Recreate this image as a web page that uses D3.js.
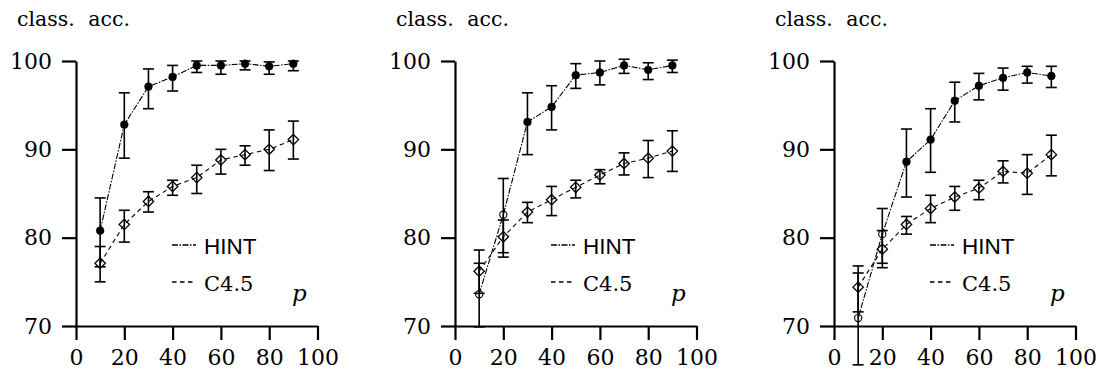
<!DOCTYPE html>
<html>
<head>
<meta charset="utf-8">
<script src="https://cdn.jsdelivr.net/npm/d3@7.9.0/dist/d3.min.js"></script>
<style>
  body { margin: 0; background: #fff; }
  svg { display: block; }
</style>
</head>
<body>
<svg id="chart" width="1100" height="376"></svg>
<script>
// sample sizes p (%)
const pValues = [10, 20, 30, 40, 50, 60, 70, 80, 90];
const xTicks = [0, 20, 40, 60, 80, 100];
const yTicks = [70, 80, 90, 100];

// panel 1
const hintA   = [80.8, 92.8, 97.1, 98.2, 99.5, 99.5, 99.7, 99.4, 99.7];
const hintAHi = [84.5, 96.4, 99.1, 99.5, 100.0, 100.0, 100.0, 99.9, 100.0];
const hintALo = [76.7, 89.0, 94.6, 96.6, 98.7, 98.5, 99.0, 98.5, 98.9];
const hintAOpen = [false, false, false, false, false, false, false, false, false];
const c45A    = [77.1, 81.5, 84.1, 85.8, 86.8, 88.8, 89.4, 90.0, 91.1];
const c45AHi  = [79.0, 83.1, 85.2, 86.5, 88.2, 90.0, 90.4, 92.2, 93.2];
const c45ALo  = [75.0, 79.5, 82.9, 84.8, 85.0, 87.2, 88.2, 87.6, 88.9];

// panel 2
const hintB   = [73.6, 82.6, 93.1, 94.8, 98.4, 98.7, 99.5, 99.0, 99.5];
const hintBHi = [77.1, 86.7, 96.4, 97.2, 99.7, 100.0, 100.2, 99.8, 100.1];
const hintBLo = [69.9, 78.3, 89.4, 92.2, 96.9, 97.3, 98.6, 97.9, 98.7];
const hintBOpen = [true, true, false, false, false, false, false, false, false];
const c45B    = [76.2, 80.1, 82.9, 84.3, 85.7, 87.1, 88.4, 89.0, 89.8];
const c45BHi  = [78.6, 82.0, 84.0, 85.8, 86.5, 87.7, 89.6, 91.0, 92.1];
const c45BLo  = [73.7, 77.8, 81.7, 82.5, 84.5, 86.1, 87.1, 86.8, 87.5];

// panel 3
const hintC   = [70.9, 80.4, 88.6, 91.1, 95.5, 97.2, 98.1, 98.7, 98.3];
const hintCHi = [76.8, 83.3, 92.3, 94.6, 97.6, 98.6, 99.2, 99.4, 99.4];
const hintCLo = [65.6, 77.1, 84.6, 87.4, 93.1, 95.6, 96.7, 97.5, 97.0];
const hintCOpen = [true, true, false, false, false, false, false, false, false];
const c45C    = [74.4, 78.7, 81.5, 83.3, 84.6, 85.6, 87.5, 87.3, 89.4];
const c45CHi  = [76.0, 80.8, 82.4, 84.8, 85.8, 86.5, 88.7, 89.4, 91.6];
const c45CLo  = [71.6, 76.6, 80.4, 81.7, 83.1, 84.3, 86.2, 84.9, 87.0];

const yTitle = "class. acc.";
const xTitle = "p";
const legendLabels = ["HINT", "C4.5"];

const panels = [
  { left: 76,  hint: hintA, hintHi: hintAHi, hintLo: hintALo, open: hintAOpen, c45: c45A, c45Hi: c45AHi, c45Lo: c45ALo },
  { left: 455, hint: hintB, hintHi: hintBHi, hintLo: hintBLo, open: hintBOpen, c45: c45B, c45Hi: c45BHi, c45Lo: c45BLo },
  { left: 834, hint: hintC, hintHi: hintCHi, hintLo: hintCLo, open: hintCOpen, c45: c45C, c45Hi: c45CHi, c45Lo: c45CLo },
];

// only DejaVu Serif renders as a serif face here
const serif = 'DejaVu Serif';
const sans = 'Liberation Sans';

const svg = d3.select('#chart');
const plotTop = 61, plotBottom = 326, plotW = 241.5;
const y = d3.scaleLinear().domain([70, 100]).range([plotBottom, plotTop]);

const hintDash = "6,1.5,1.5,1.5";
const c45Dash = "4.5,3.5";

function drawPanel(p) {
  let x = d3.scaleLinear().domain([0, 100]).range([p.left, p.left + plotW]);
  let g = svg.append('g');

  // axes
  let yAxis = g.append('g')
    .attr('transform', `translate(${p.left},0)`)
    .call(d3.axisLeft(y).tickValues(yTicks).tickSize(14).tickSizeOuter(0).tickPadding(10));
  let xAxis = g.append('g')
    .attr('transform', `translate(0,${plotBottom})`)
    .call(d3.axisBottom(x).tickValues(xTicks).tickSize(14).tickSizeOuter(0).tickPadding(9));
  [yAxis, xAxis].forEach((ax) => {
    ax.attr('font-family', serif).attr('font-size', 22);
    ax.selectAll('path, line').attr('stroke', '#000').attr('stroke-width', 2.2);
    ax.selectAll('text').attr('fill', '#000');
  });

  // y title
  g.append('text')
    .attr('x', p.left - 59)
    .attr('y', 26)
    .attr('font-family', serif)
    .attr('font-size', 20.5)
    .attr('word-spacing', 7)
    .text(yTitle);

  // x title
  g.append('text')
    .attr('x', p.left + 216)
    .attr('y', 301)
    .attr('font-family', serif)
    .attr('font-size', 23)
    .attr('font-style', 'italic')
    .text(xTitle);

  // lines
  let line = d3.line().x((d) => x(d[0])).y((d) => y(d[1]));
  g.append('path')
    .attr('d', line(pValues.map((v, i) => [v, p.c45[i]])))
    .attr('fill', 'none').attr('stroke', '#000').attr('stroke-width', 1.1)
    .attr('stroke-dasharray', c45Dash);
  g.append('path')
    .attr('d', line(pValues.map((v, i) => [v, p.hint[i]])))
    .attr('fill', 'none').attr('stroke', '#000').attr('stroke-width', 1.1)
    .attr('stroke-dasharray', hintDash);

  // error bars
  function errorBars(hi, lo) {
    pValues.forEach((v, i) => {
      let cx = x(v);
      g.append('line').attr('x1', cx).attr('x2', cx).attr('y1', y(hi[i])).attr('y2', y(lo[i]))
        .attr('stroke', '#000').attr('stroke-width', 1.6);
      [hi[i], lo[i]].forEach((e) => {
        g.append('line').attr('x1', cx - 5.5).attr('x2', cx + 5.5).attr('y1', y(e)).attr('y2', y(e))
          .attr('stroke', '#000').attr('stroke-width', 1.6);
      });
    });
  }
  errorBars(p.hintHi, p.hintLo);
  errorBars(p.c45Hi, p.c45Lo);

  // C4.5 diamonds
  g.selectAll('.diamond')
    .data(pValues.map((v, i) => [v, p.c45[i]]))
    .join('path')
    .attr('class', 'diamond')
    .attr('d', (d) => {
      let cx = x(d[0]), cy = y(d[1]), r = 5.2;
      return `M${cx},${cy - r}L${cx + r},${cy}L${cx},${cy + r}L${cx - r},${cy}Z`;
    })
    .attr('fill', 'none').attr('stroke', '#000').attr('stroke-width', 1.3);

  // HINT circles
  g.selectAll('.dot')
    .data(pValues.map((v, i) => [v, p.hint[i], p.open[i]]))
    .join('circle')
    .attr('class', 'dot')
    .attr('cx', (d) => x(d[0]))
    .attr('cy', (d) => y(d[1]))
    .attr('r', (d) => (d[2] ? 3.6 : 3.9))
    .attr('fill', (d) => (d[2] ? 'none' : '#000'))
    .attr('stroke', '#000')
    .attr('stroke-width', (d) => (d[2] ? 1.1 : 0.5));

  // legend
  let legend = [
    { label: legendLabels[0], dash: hintDash, ly: 245, ty: 254, isSans: true },
    { label: legendLabels[1], dash: c45Dash, ly: 282, ty: 291, isSans: false },
  ];
  legend.forEach((l) => {
    g.append('line')
      .attr('x1', p.left + 96).attr('x2', p.left + 120)
      .attr('y1', l.ly).attr('y2', l.ly)
      .attr('stroke', '#000').attr('stroke-width', 1.3)
      .attr('stroke-dasharray', l.dash);
    g.append('text')
      .attr('x', p.left + 128)
      .attr('y', l.ty)
      .attr('font-family', l.isSans ? sans : serif)
      .attr('font-size', l.isSans ? 22.5 : 21)
      .text(l.label);
  });
}

panels.forEach(drawPanel);
</script>
</body>
</html>
